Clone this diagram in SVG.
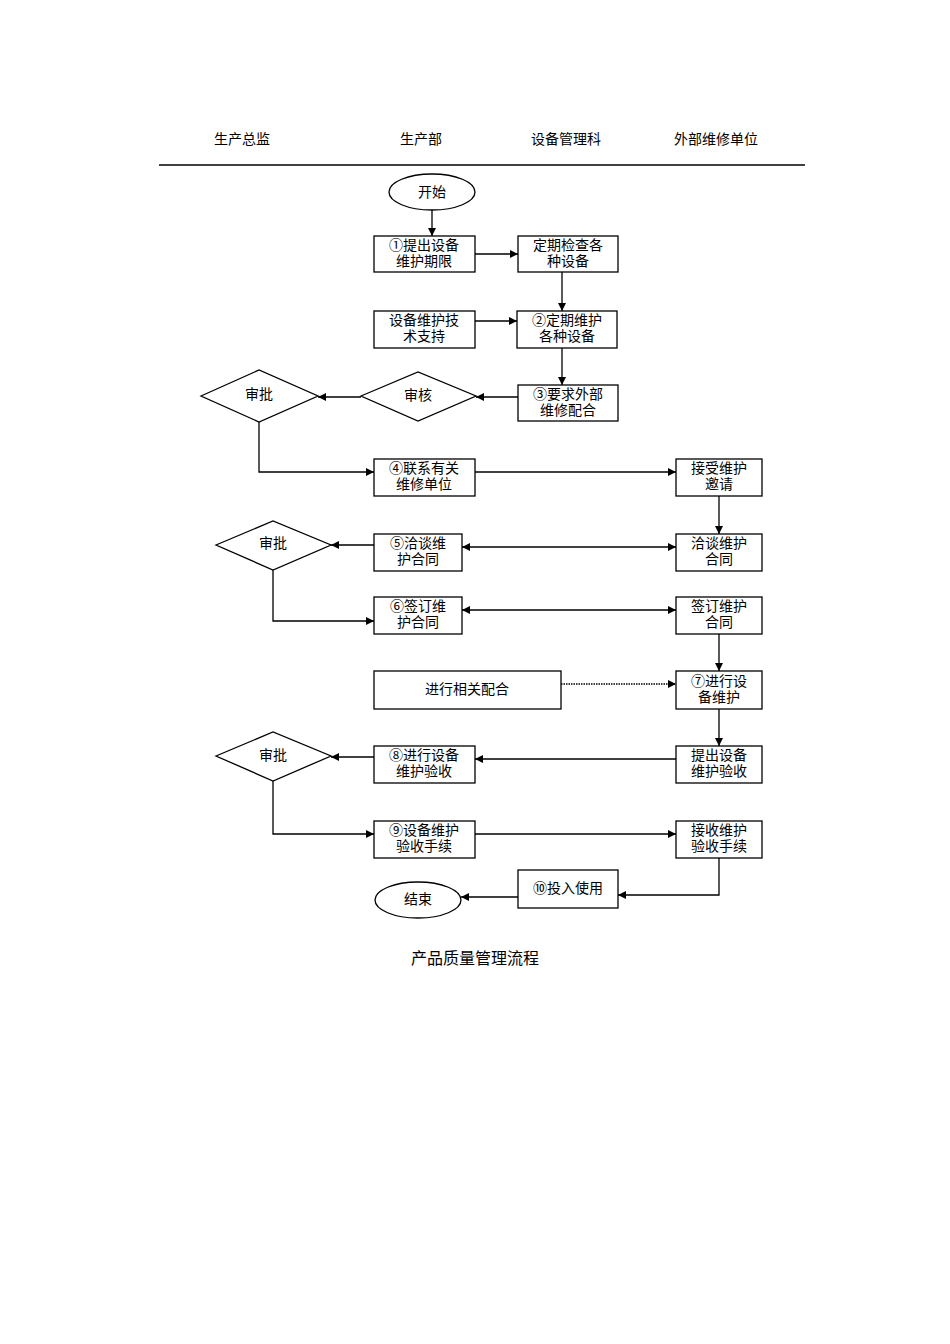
<svg xmlns="http://www.w3.org/2000/svg" width="950" height="1344" viewBox="0 0 950 1344">
<style>
text{font-family:"Liberation Serif","Noto Sans CJK SC",serif;font-size:14px;fill:#000;text-anchor:middle}
.n rect,.n ellipse,.n polygon{fill:#fff;stroke:#000;stroke-width:1.3}
.c path{fill:none;stroke:#000;stroke-width:1.3}
</style>
<defs>
<marker id="a" viewBox="0 0 10 10" refX="10" refY="5" markerWidth="8" markerHeight="8" orient="auto-start-reverse" markerUnits="userSpaceOnUse"><path d="M0,0L10,5L0,10z" fill="#000"/></marker>
</defs>
<rect width="950" height="1344" fill="#fff"/>
<g id="header">
<text x="242" y="144">生产总监</text><text x="421" y="144">生产部</text><text x="566" y="144">设备管理科</text><text x="716" y="144">外部维修单位</text>
<path d="M159 165H805" stroke="#000" stroke-width="1.3"/>
</g>
<g class="c" id="connectors">
<path d="M432 210V236" marker-end="url(#a)"/>
<path d="M475 254H518" marker-end="url(#a)"/>
<path d="M562 272V311" marker-end="url(#a)"/>
<path d="M475 321H517" marker-end="url(#a)"/>
<path d="M562 348V385" marker-end="url(#a)"/>
<path d="M518 397H476" marker-end="url(#a)"/>
<path d="M361 397H318" marker-end="url(#a)"/>
<path d="M259 422V472H374" marker-end="url(#a)"/>
<path d="M475 472H676" marker-end="url(#a)"/>
<path d="M719 496V534" marker-end="url(#a)"/>
<path d="M374 545H331" marker-end="url(#a)"/>
<path d="M462 547H676" marker-start="url(#a)" marker-end="url(#a)"/>
<path d="M273 570V621H374" marker-end="url(#a)"/>
<path d="M462 610H676" marker-start="url(#a)" marker-end="url(#a)"/>
<path d="M719 634V671" marker-end="url(#a)"/>
<path d="M561 684H676" stroke-dasharray="1.5 1" marker-end="url(#a)"/>
<path d="M719 709V746" marker-end="url(#a)"/>
<path d="M676 759H475" marker-end="url(#a)"/>
<path d="M374 757H331" marker-end="url(#a)"/>
<path d="M273 781V834H374" marker-end="url(#a)"/>
<path d="M475 834H676" marker-end="url(#a)"/>
<path d="M719 858V895H618" marker-end="url(#a)"/>
<path d="M518 897H461" marker-end="url(#a)"/>
</g>
<g class="n">
<g id="start"><ellipse cx="432" cy="192" rx="43" ry="18"/><text x="432" y="197">开始</text></g>
<g id="s1"><rect x="374" y="236" width="101" height="36"/><text x="424" y="250">①提出设备</text><text x="424" y="266">维护期限</text></g>
<g id="check"><rect x="518" y="236" width="100" height="36"/><text x="568" y="250">定期检查各</text><text x="568" y="266">种设备</text></g>
<g id="tech"><rect x="374" y="311" width="101" height="37"/><text x="424" y="325">设备维护技</text><text x="424" y="341">术支持</text></g>
<g id="s2"><rect x="517" y="311" width="100" height="37"/><text x="567" y="325">②定期维护</text><text x="567" y="341">各种设备</text></g>
<g id="s3"><rect x="518" y="385" width="100" height="36"/><text x="568" y="399">③要求外部</text><text x="568" y="415">维修配合</text></g>
<g id="audit"><polygon points="361,396 418,372 476,396 418,421"/><text x="418" y="400">审核</text></g>
<g id="approve1"><polygon points="201,396 259,370 318,396 259,422"/><text x="259" y="399">审批</text></g>
<g id="s4"><rect x="374" y="459" width="101" height="37"/><text x="424" y="473">④联系有关</text><text x="424" y="489">维修单位</text></g>
<g id="accept"><rect x="676" y="459" width="86" height="37"/><text x="719" y="473">接受维护</text><text x="719" y="489">邀请</text></g>
<g id="approve2"><polygon points="216,545 273,521 331,545 273,570"/><text x="273" y="548">审批</text></g>
<g id="s5"><rect x="374" y="534" width="88" height="37"/><text x="418" y="548">⑤洽谈维</text><text x="418" y="564">护合同</text></g>
<g id="neg"><rect x="676" y="534" width="86" height="37"/><text x="719" y="548">洽谈维护</text><text x="719" y="564">合同</text></g>
<g id="s6"><rect x="374" y="597" width="88" height="37"/><text x="418" y="611">⑥签订维</text><text x="418" y="627">护合同</text></g>
<g id="sign"><rect x="676" y="597" width="86" height="37"/><text x="719" y="611">签订维护</text><text x="719" y="627">合同</text></g>
<g id="coop"><rect x="374" y="671" width="187" height="38"/><text x="467" y="694">进行相关配合</text></g>
<g id="s7"><rect x="676" y="671" width="86" height="38"/><text x="719" y="686">⑦进行设</text><text x="719" y="702">备维护</text></g>
<g id="approve3"><polygon points="216,756 273,732 331,756 273,781"/><text x="273" y="760">审批</text></g>
<g id="s8"><rect x="374" y="746" width="101" height="37"/><text x="424" y="760">⑧进行设备</text><text x="424" y="776">维护验收</text></g>
<g id="req"><rect x="676" y="746" width="86" height="37"/><text x="719" y="760">提出设备</text><text x="719" y="776">维护验收</text></g>
<g id="s9"><rect x="374" y="821" width="101" height="37"/><text x="424" y="835">⑨设备维护</text><text x="424" y="851">验收手续</text></g>
<g id="recv"><rect x="676" y="821" width="86" height="37"/><text x="719" y="835">接收维护</text><text x="719" y="851">验收手续</text></g>
<g id="s10"><rect x="518" y="870" width="100" height="38"/><text x="568" y="893">⑩投入使用</text></g>
<g id="end"><ellipse cx="418" cy="900" rx="43" ry="18"/><text x="418" y="904">结束</text></g>
</g>
<text x="475" y="964" style="font-size:16px">产品质量管理流程</text>
</svg>
